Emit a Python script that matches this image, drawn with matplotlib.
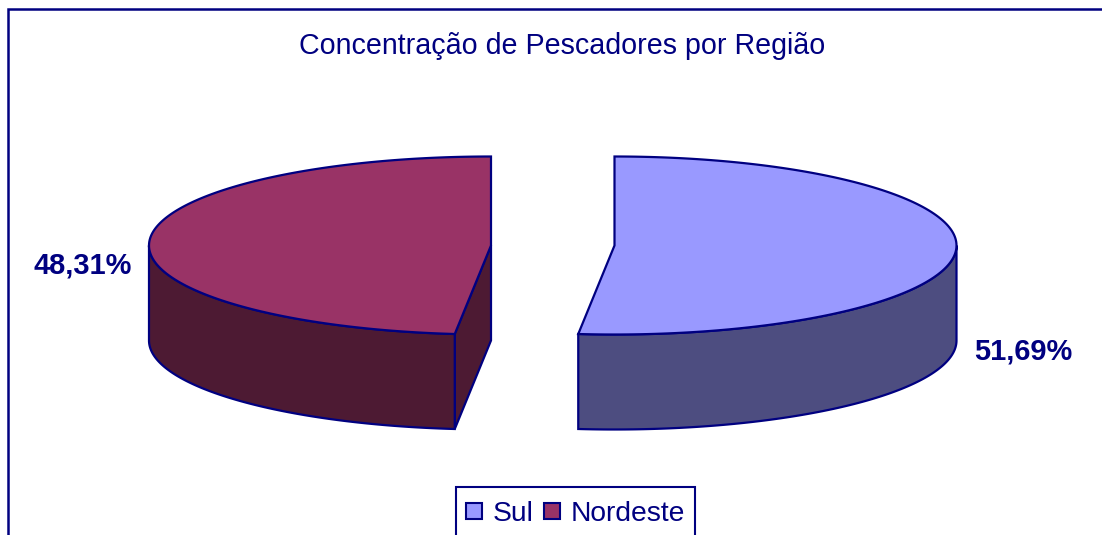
import numpy as np
import matplotlib
matplotlib.use("Agg")
import matplotlib.pyplot as plt
from matplotlib.patches import Polygon, Rectangle

title = "Concentração de Pescadores por Região"
categories = ["Sul", "Nordeste"]
values = [51.69, 48.31]
value_labels = ["51,69%", "48,31%"]
top_colors = ["#9999FF", "#993366"]
side_colors = ["#4D4D80", "#4D1A33"]
navy = "#000080"
plt.rcParams["font.family"] = ["Liberation Sans", "DejaVu Sans"]

W, H = 1102, 535
fig = plt.figure(figsize=(W / 100, H / 100), dpi=100)
ax = fig.add_axes([0, 0, 1, 1])
ax.set_xlim(0, W)
ax.set_ylim(H, 0)
ax.axis("off")

RX, RY, DEPTH, CY = 342.0, 89.0, 95.0, 245.5
CENTERS = [614.5, 491.0]
LW = 1.6


def rim(cx, a0, a1, dy=0.0, n=160):
    t = np.radians(np.linspace(a0, a1, n))
    return np.column_stack([cx + RX * np.sin(t), CY + dy - RY * np.cos(t)])


ax.add_patch(Rectangle((8, 9), W + 20, H + 20, fc="white", ec=navy, lw=1.8, zorder=0))

start = 0.0
for i, v in enumerate(values):
    end = start + v / sum(values) * 360
    cx = CENTERS[i]
    c = np.array([cx, CY])
    sd = side_colors[i]
    # inner cut face, visible only where the slice starts on the left of its tip
    if np.sin(np.radians(start)) < 0:
        e = rim(cx, start, start, n=1)[0]
        ax.add_patch(Polygon([c, e, e + [0, DEPTH], c + [0, DEPTH]], fc=sd, ec=navy, lw=LW, zorder=2))
    # outer wall (front half only)
    a0, a1 = max(start, 90), min(end, 270)
    if a1 > a0:
        r = rim(cx, a0, a1)
        wall = np.vstack([r, (r + [0, DEPTH])[::-1]])
        ax.add_patch(Polygon(wall, fc=sd, ec=navy, lw=LW, zorder=3))
    # top face
    top = np.vstack([c, rim(cx, start, end)])
    ax.add_patch(Polygon(top, fc=top_colors[i], ec=navy, lw=LW, zorder=4))
    start = end

ax.text(562, 46, title, color=navy, fontsize=20.6, ha="center", va="center")
ax.text(1023, 351, value_labels[0], color=navy, fontsize=20.9, fontweight="bold", ha="center", va="center")
ax.text(83, 265, value_labels[1], color=navy, fontsize=20.9, fontweight="bold", ha="center", va="center")

# legend
ax.add_patch(Rectangle((456, 487), 239, 70, fc="white", ec=navy, lw=1.5, zorder=5))
for name, col, xb, xt in zip(categories, top_colors, (466, 544), (493, 571)):
    ax.add_patch(Rectangle((xb, 503), 16, 16, fc=col, ec=navy, lw=1.5, zorder=6))
    ax.text(xt, 514, name, color=navy, fontsize=20.3, ha="left", va="center", zorder=6)

fig.savefig("out.png", dpi=100)
